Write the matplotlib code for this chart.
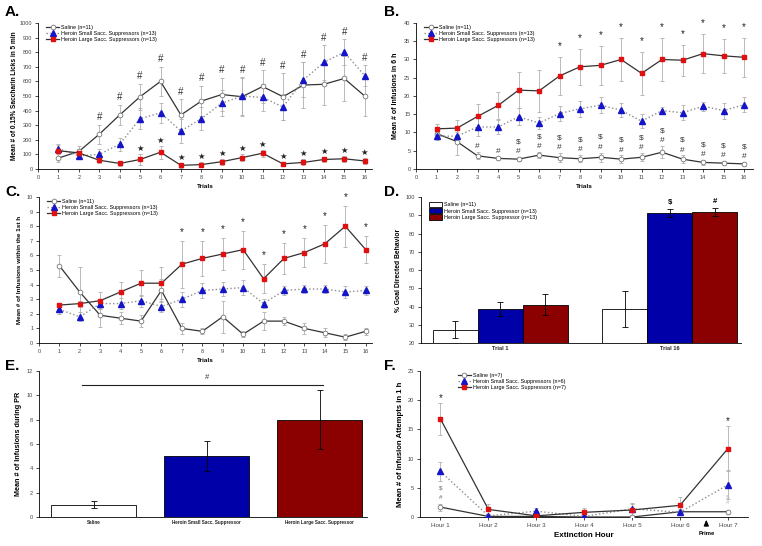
import matplotlib
matplotlib.use('Agg')
import matplotlib.pyplot as plt
import numpy as np

plt.rcParams['font.family'] = ['Liberation Sans', 'DejaVu Sans']

trials = list(range(1, 17))
labels_sacc = ['Saline (n=11)', 'Heroin Small Sacc. Suppressors (n=13)',
               'Heroin Large Sacc. Suppressors (n=13)']

# A. saccharin licks in 5 min
a_sal = [75, 120, 238, 370, 495, 600, 370, 465, 510, 495, 565, 495, 575, 580, 620, 500]
a_sal_err = [30, 40, 65, 70, 90, 100, 110, 105, 115, 130, 110, 160, 155, 140, 155, 140]
a_small = [140, 90, 100, 170, 345, 385, 260, 345, 450, 500, 490, 425, 610, 730, 800, 640]
a_small_err = [30, 25, 35, 45, 70, 70, 80, 80, 90, 130, 90, 90, 120, 120, 90, 70]
a_large = [125, 110, 60, 38, 65, 115, 25, 30, 50, 78, 108, 35, 45, 65, 70, 55]
a_large_err = [40, 30, 20, 15, 35, 45, 15, 15, 20, 25, 25, 15, 20, 20, 20, 20]
a_hash = [3, 4, 5, 6, 7, 8, 9, 10, 11, 12, 13, 14, 15, 16]
a_star = [5, 6, 7, 8, 9, 10, 11, 12, 13, 14, 15, 16]

# B. infusions in 6 h
b_sal = [9.7, 7.5, 3.6, 2.9, 2.7, 3.8, 3.1, 2.8, 3.2, 2.7, 3.2, 4.6, 2.7, 1.8, 1.6, 1.4]
b_sal_err = [0.5, 3.7, 1.0, 0.5, 0.6, 0.8, 1.2, 1.0, 1.3, 1.0, 1.1, 1.6, 1.0, 0.6, 0.6, 0.5]
b_small = [9.0, 9.0, 11.5, 11.5, 14.3, 12.6, 15.2, 16.5, 17.5, 16.1, 13.1, 16.0, 15.4, 17.2, 16.0, 17.6]
b_small_err = [1.0, 1.2, 2.5, 2.0, 2.3, 1.7, 2.0, 2.2, 2.2, 1.9, 1.9, 1.0, 2.0, 1.2, 2.2, 2.0]
b_large = [11.0, 11.2, 14.4, 17.4, 21.6, 21.4, 25.5, 28.0, 28.4, 30.0, 26.2, 30.0, 29.8, 31.6, 31.0, 30.6]
b_large_err = [1.2, 2.1, 3.4, 3.6, 4.9, 5.8, 5.1, 5.0, 5.3, 5.8, 5.8, 6.0, 4.2, 5.4, 4.7, 5.4]
b_star = [7, 8, 9, 10, 11, 12, 13, 14, 15, 16]
b_hash = [3, 4, 5, 6, 7, 8, 9, 10, 11, 12, 13, 14, 15, 16]
b_dollar = [5, 6, 7, 8, 9, 10, 11, 12, 13, 14, 15, 16]

# C. infusions within the 1st h
c_sal = [5.3, 3.5, 1.9, 1.7, 1.5, 3.6, 1.0, 0.8, 1.8, 0.6, 1.5, 1.5, 1.0, 0.7, 0.4, 0.8]
c_sal_err = [0.75, 1.7, 0.8, 0.4, 0.4, 0.8, 0.4, 0.2, 1.1, 0.2, 0.6, 0.3, 0.4, 0.3, 0.2, 0.25]
c_small = [2.3, 1.8, 2.7, 2.7, 2.9, 2.5, 3.0, 3.6, 3.7, 3.8, 2.7, 3.6, 3.7, 3.7, 3.5, 3.6]
c_small_err = [0.3, 0.3, 0.3, 0.4, 0.4, 0.4, 0.5, 0.5, 0.5, 0.5, 0.3, 0.3, 0.3, 0.3, 0.4, 0.3]
c_large = [2.6, 2.7, 2.9, 3.5, 4.1, 4.1, 5.4, 5.8, 6.1, 6.4, 4.4, 5.8, 6.2, 6.8, 8.0, 6.4]
c_large_err = [0.15, 0.2, 0.6, 0.7, 0.9, 1.1, 1.6, 1.2, 1.1, 1.3, 1.0, 1.05, 1.0, 1.3, 1.4, 0.95]
c_star = [7, 8, 9, 10, 11, 12, 13, 14, 15, 16]

# D. % goal directed behavior
d_groups = ['Trial 1', 'Trial 16']
d_labels = ['Saline (n=11)', 'Heroin Small Sacc. Suppressor (n=13)',
            'Heroin Large Sacc. Suppressor (n=13)']
d_sal = [27.4, 38.5]
d_sal_err = [4.8, 9.9]
d_small = [38.7, 91.1]
d_small_err = [4.0, 2.2]
d_large = [41.1, 91.7]
d_large_err = [6.0, 2.3]

# E. infusions during PR
e_groups = ['Saline', 'Heroin Small Sacc. Suppressor', 'Heroin Large Sacc. Suppressor']
e_vals = [1.0, 5.0, 8.0]
e_err = [0.3, 1.25, 2.4]

# F. extinction
f_hours = ['Hour 1', 'Hour 2', 'Hour 3', 'Hour 4', 'Hour 5', 'Hour 6', 'Hour 7']
f_labels = ['Saline (n=7)', 'Heroin Small Sacc. Suppressors (n=6)',
            'Heroin Large Sacc. Suppressors (n=7)']
f_sal = [1.7, 0.1, 0.1, 0.0, 0.0, 0.9, 0.9]
f_sal_err = [0.6, 0.1, 0.1, 0.1, 0.1, 0.2, 0.3]
f_small = [7.8, 0.2, 1.0, 0.1, 1.4, 0.8, 5.5]
f_small_err = [1.6, 0.2, 0.6, 0.2, 1.0, 0.5, 2.5]
f_large = [16.8, 1.3, 0.2, 0.8, 1.2, 2.0, 11.7]
f_large_err = [2.7, 0.9, 0.2, 0.7, 1.1, 1.4, 3.8]
f_star = [1, 7]

BLUE = '#1414c8'
RED = '#e01010'
BAR_BLUE = '#0000a8'
BAR_RED = '#8b0000'
ERR = '#b0b0b0'
LINE = '#333333'
TICK = 4.1


def style(ax):
    for s in ['top', 'right']:
        ax.spines[s].set_visible(False)
    for s in ['left', 'bottom']:
        ax.spines[s].set_linewidth(0.6)
    ax.tick_params(direction='out', length=2, width=0.5, labelsize=TICK,
                   labelcolor='#444444', pad=2)


def line_panel(ax, x, sal, sal_e, small, small_e, large, large_e, labels):
    for y, e in [(sal, sal_e), (small, small_e), (large, large_e)]:
        ax.errorbar(x, y, yerr=e, fmt='none', ecolor=ERR, elinewidth=0.6,
                    capsize=1.5, capthick=0.6, zorder=1)
    ax.plot(x, sal, '-', color=LINE, lw=0.9, marker='o', ms=3.4, mfc='white',
            mec='#777777', mew=0.6, label=labels[0], zorder=3)
    ax.plot(x, small, ':', color='#8c8c8c', lw=1.0, marker='^', ms=3.7,
            mfc=BLUE, mec=BLUE, label=labels[1], zorder=3)
    ax.plot(x, large, '-', color=LINE, lw=0.9, marker='s', ms=3.2,
            mfc=RED, mec=RED, label=labels[2], zorder=3)
    ax.legend(loc='upper left', bbox_to_anchor=(0.01, 1.02), frameon=False,
              fontsize=3.9, handlelength=2.4, labelspacing=0.2, numpoints=1,
              handletextpad=0.4)
    style(ax)


def upper(vals, errs, i):
    return vals[i] + errs[i]


fig = plt.figure(figsize=(7.62, 5.46), dpi=100)

# ---- A
axA = fig.add_axes([0.0499, 0.6905, 0.438, 0.2674])
line_panel(axA, trials, a_sal, a_sal_err, a_small, a_small_err,
           a_large, a_large_err, labels_sacc)
axA.set_xlim(0, 16.35)
axA.set_ylim(0, 1000)
axA.set_xticks(range(0, 17))
axA.set_yticks(range(0, 1001, 100))
for t in a_hash:
    i = t - 1
    y = max(upper(a_sal, a_sal_err, i), upper(a_small, a_small_err, i)) + 50
    axA.text(t, y, '#', ha='center', va='center', fontsize=7, color='#333333')
for t in a_star:
    i = t - 1
    axA.text(t, upper(a_large, a_large_err, i) + 38, '\u2605', ha='center',
             va='center', fontsize=6, color='#222222',
             family=['DejaVu Sans'])
axA.set_xlabel('Trials', fontsize=4.6, fontweight='bold', labelpad=3)
axA.set_ylabel('Mean # of 0.15% Saccharin Licks in 5 min', fontsize=4.7,
               fontweight='bold', labelpad=1.5)

# ---- B
axB = fig.add_axes([0.546, 0.6905, 0.442, 0.2674])
line_panel(axB, trials, b_sal, b_sal_err, b_small, b_small_err,
           b_large, b_large_err, labels_sacc)
axB.set_xlim(0, 16.43)
axB.set_ylim(0, 40)
axB.set_xticks(range(0, 17))
axB.set_yticks(range(0, 41, 5))
for t in b_star:
    i = t - 1
    axB.text(t, upper(b_large, b_large_err, i) + 3.0, '*', ha='center',
             va='center', fontsize=7, color='#222222')
for t in b_hash:
    i = t - 1
    axB.text(t, upper(b_sal, b_sal_err, i) + 1.5, '#', ha='center',
             va='center', fontsize=6, color='#333333')
for t in b_dollar:
    i = t - 1
    axB.text(t, upper(b_sal, b_sal_err, i) + 4.2, '$', ha='center',
             va='center', fontsize=6, color='#333333')
axB.set_xlabel('Trials', fontsize=4.6, fontweight='bold', labelpad=3)
axB.set_ylabel('Mean # of Infusions in 6 h', fontsize=5.0,
               fontweight='bold', labelpad=4)

# ---- C
axC = fig.add_axes([0.051, 0.3718, 0.437, 0.2672])
line_panel(axC, trials, c_sal, c_sal_err, c_small, c_small_err,
           c_large, c_large_err, labels_sacc)
axC.set_xlim(0, 16.3)
axC.set_ylim(0, 10)
axC.set_xticks(range(0, 17))
axC.set_yticks(range(0, 11))
for t in c_star:
    i = t - 1
    axC.text(t, upper(c_large, c_large_err, i) + 0.6, '*', ha='center',
             va='center', fontsize=7, color='#222222')
axC.set_xlabel('Trials', fontsize=4.6, fontweight='bold', labelpad=3)
axC.set_ylabel('Mean # of Infusions within the 1st h', fontsize=4.6,
               fontweight='bold', labelpad=4)

# ---- D
axD = fig.add_axes([0.5525, 0.3718, 0.42, 0.2672])
xd = np.arange(len(d_groups))
w = 0.266
series_d = [(d_sal, d_sal_err, 'white'), (d_small, d_small_err, BAR_BLUE),
            (d_large, d_large_err, BAR_RED)]
for k, (vals, errs, col) in enumerate(series_d):
    axD.bar(xd + (k - 1) * w, vals, w, yerr=errs, color=col, edgecolor='black',
            linewidth=0.6, label=d_labels[k],
            error_kw=dict(ecolor='black', elinewidth=0.6, capsize=2, capthick=0.6))
axD.text(xd[1], d_small[1] + d_small_err[1] + 3.5, '$', ha='center',
         va='center', fontsize=5.5, fontweight='bold')
axD.text(xd[1] + w, d_large[1] + d_large_err[1] + 3.5, '#', ha='center',
         va='center', fontsize=5.5, fontweight='bold')
axD.set_xlim(-0.467, 1.42)
axD.set_ylim(20, 100)
axD.set_yticks(range(20, 101, 10))
axD.set_xticks(xd)
axD.set_xticklabels(d_groups, fontweight='bold')
axD.legend(loc='upper left', bbox_to_anchor=(0.01, 1.0), frameon=False,
           fontsize=3.9, handlelength=2.4, handleheight=1.1, labelspacing=0.15,
           handletextpad=0.3)
axD.set_ylabel('% Goal Directed Behavior', fontsize=4.9, fontweight='bold',
               labelpad=3)
style(axD)
axD.tick_params(axis='x', length=0, labelcolor='#222222')

# ---- E
axE = fig.add_axes([0.051, 0.0531, 0.4306, 0.2674])
xe = np.arange(len(e_groups))
axE.bar(xe, e_vals, 0.755, yerr=e_err, color=['white', BAR_BLUE, BAR_RED],
        edgecolor='black', linewidth=0.6,
        error_kw=dict(ecolor='black', elinewidth=0.6, capsize=2, capthick=0.6))
top_e = max(v + e for v, e in zip(e_vals, e_err)) + 0.45
axE.plot([xe[0] - 0.1, xe[-1] + 0.03], [top_e, top_e], color='#222222', lw=0.8)
axE.text(xe[1], top_e + 0.6, '#', ha='center', va='center', fontsize=5.5,
         color='#333333')
axE.set_xlim(-0.486, 2.42)
axE.set_ylim(0, 12)
axE.set_yticks(range(0, 13, 2))
axE.set_xticks(xe)
axE.set_xticklabels(e_groups, fontweight='bold', fontsize=3.3)
axE.set_ylabel('Mean # of Infusions during PR', fontsize=5.2,
               fontweight='bold', labelpad=4)
style(axE)
axE.tick_params(axis='x', length=0, labelsize=3.3, labelcolor='#222222')

# ---- F
axF = fig.add_axes([0.551, 0.0531, 0.4306, 0.2674])
xf = list(range(1, len(f_hours) + 1))
line_panel(axF, xf, f_sal, f_sal_err, f_small, f_small_err,
           f_large, f_large_err, f_labels)
axF.legend(loc='upper left', bbox_to_anchor=(0.1, 1.02), frameon=False,
           fontsize=3.9, handlelength=2.4, labelspacing=0.2, numpoints=1,
           handletextpad=0.4)
axF.set_xlim(0.57, 7.42)
axF.set_ylim(0, 25)
axF.set_yticks(range(0, 26, 5))
axF.set_xticks(xf)
axF.set_xticklabels(f_hours)
axF.tick_params(axis='x', labelsize=4.5)
for t in f_star:
    i = t - 1
    axF.text(t, upper(f_large, f_large_err, i) + 0.9, '*', ha='center',
             va='center', fontsize=7, color='#222222')
axF.text(1, upper(f_sal, f_sal_err, 0) + 1.1, '#', ha='center', va='center',
         fontsize=4.5, color='#666666')
axF.text(1, upper(f_sal, f_sal_err, 0) + 2.7, '$', ha='center', va='center',
         fontsize=4.5, color='#666666')
axF.text(7, upper(f_sal, f_sal_err, 6) + 1.2, '#', ha='center', va='center',
         fontsize=4.5, color='#bbbbbb')
axF.text(7, upper(f_sal, f_sal_err, 6) + 2.2, '$', ha='center', va='center',
         fontsize=4.5, color='#bbbbbb')
axF.annotate('', xy=(6.55, 0), xytext=(6.55, -2.0), xycoords='data',
             arrowprops=dict(arrowstyle='-|>,head_width=0.15,head_length=0.35',
                             color='black', lw=0.8), annotation_clip=False)
axF.text(6.55, -2.8, 'Prime', ha='center', va='center', fontsize=4.2,
         fontweight='bold', clip_on=False)
axF.set_xlabel('Extinction Hour', fontsize=5.8, fontweight='bold', labelpad=3)
axF.set_ylabel('Mean # of Infusion Attempts in 1 h', fontsize=5.6,
               fontweight='bold', labelpad=3)

# panel letters
for lab, x, y in [('A.', 5, 12), ('B.', 384, 12), ('C.', 5, 192),
                  ('D.', 384, 192), ('E.', 5, 366), ('F.', 384, 366)]:
    fig.text(x / 762, 1 - y / 546, lab, fontsize=11, fontweight='bold',
             ha='left', va='center')

fig.savefig('out.png', dpi=100)
